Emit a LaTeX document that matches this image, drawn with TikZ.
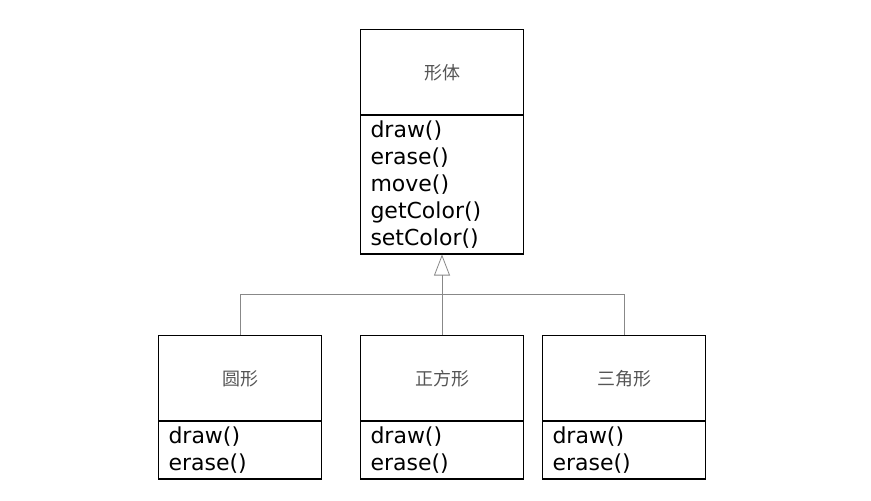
\documentclass[tikz,border=0pt]{standalone}
\usepackage{xcolor}
\usepackage{fontspec}
\setmainfont{DejaVu Sans}
\newfontfamily\cjk{Noto Sans CJK SC}
\usetikzlibrary{
	shapes.multipart, arrows.meta
}
\definecolor{labelgray}{HTML}{555555}
\definecolor{linegray}{HTML}{888888}
% header part of a class: fixed height, name in the middle
\newcommand\classname[1]{\rule[-30pt]{0pt}{74pt}{\cjk\fontsize{18}{18}\selectfont\color{labelgray}#1}}

\begin{document}
\begin{tikzpicture}[
		x=1pt, y=1pt,
		class box/.style={
			rectangle, draw, line width=1.3pt,
			rectangle split, rectangle split parts=2,
			rectangle split part align={center, left},
			minimum width=163pt, inner xsep=10pt, inner ysep=5pt,
			align=left, font=\fontsize{22}{27}\selectfont, anchor=north
		},
		link/.style={draw=linegray, line width=0.8pt},
		inherit/.style={link, -{Triangle[open, length=21pt, width=16pt]}},
	]
		\useasboundingbox (0,0) rectangle (871,-501);
		\node[class box] (shape) at (442,-29) {
			\classname{形体}
			\nodepart{second} draw()\\erase()\\move()\\getColor()\\setColor()
		};
		\node[class box] (circle) at (240,-335) {
			\classname{圆形}
			\nodepart{second} draw()\\erase()
		};
		\node[class box] (square) at (442,-335) {
			\classname{正方形}
			\nodepart{second} draw()\\erase()
		};
		\node[class box] (triangle) at (624,-335) {
			\classname{三角形}
			\nodepart{second} draw()\\erase()
		};
		\coordinate (bus) at (442,-294);
		\draw[link] (circle.north) -- (circle.north |- bus) -- (triangle.north |- bus) -- (triangle.north);
		\draw[inherit] (square.north) -- (shape.south);
	\end{tikzpicture}
\end{document}
